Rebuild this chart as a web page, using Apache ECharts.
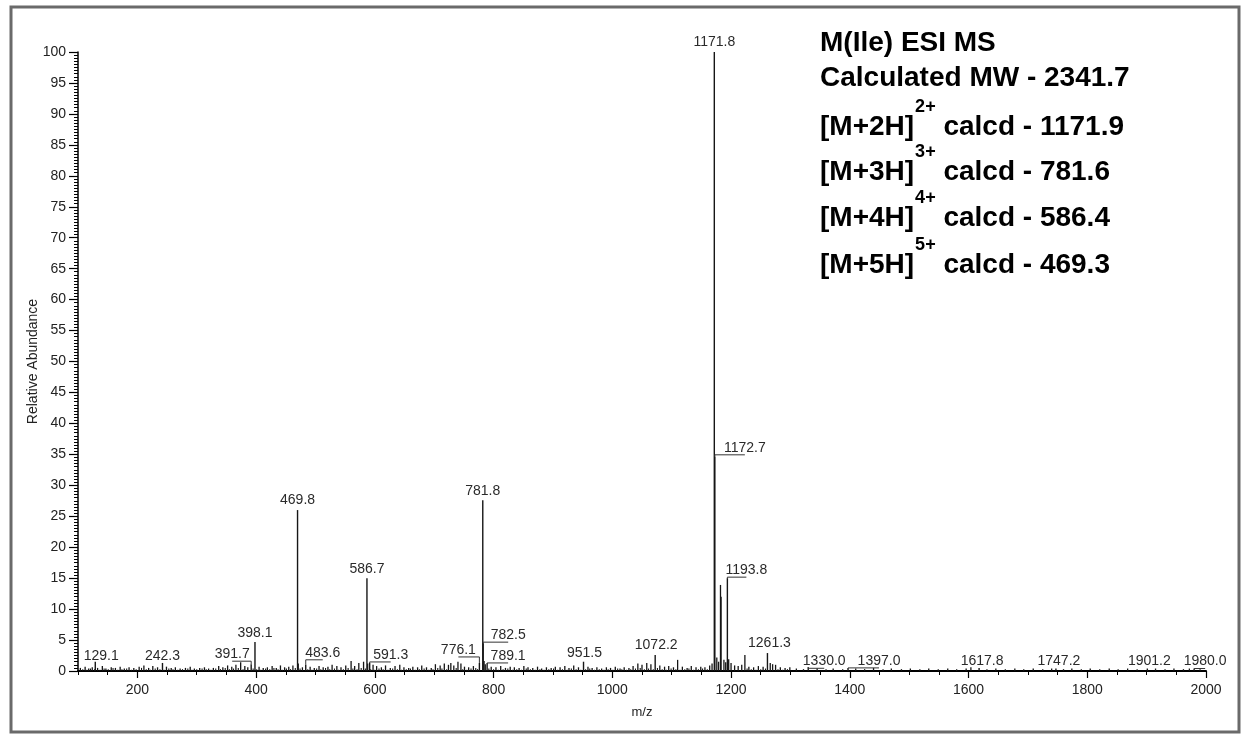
<!DOCTYPE html>
<html>
<head>
<meta charset="utf-8">
<title>M(Ile) ESI MS</title>
<script src="https://cdn.jsdelivr.net/npm/echarts@6/dist/echarts.min.js"></script>
<style>
  html, body { margin: 0; padding: 0; background: #ffffff; }
  #chart { width: 1243px; height: 740px; }
</style>
</head>
<body>
<div id="chart"></div>
<script>
// ---- Spectrum data: labelled centroid peaks (m/z, relative abundance %) ----
const labeledMz = [129.1, 242.3, 391.7, 398.1, 469.8, 483.6, 586.7, 591.3, 776.1, 781.8, 782.5, 789.1,
  951.5, 1072.2, 1171.8, 1172.7, 1193.8, 1261.3, 1330.0, 1397.0, 1617.8, 1747.2, 1901.2, 1980.0];
const labeledAbundance = [1.5, 1.3, 1.1, 4.7, 26.0, 1.0, 15.0, 1.3, 1.3, 27.6, 4.5, 1.3,
  1.5, 2.6, 100, 34.6, 15.0, 2.9, 0.6, 0.5, 0.5, 0.4, 0.4, 0.4];

// ---- Unlabelled peaks ----
const minorMz = [104, 112, 118, 124, 133, 141, 147, 156, 163, 171, 178, 186, 194, 203, 211, 219, 226, 234,
  249, 257, 264, 272, 281, 289, 296, 305, 313, 320, 328, 337, 344, 352, 359, 366, 374, 381, 386,
  405, 412, 419, 427, 434, 441, 448, 455, 462, 471, 478, 491, 498, 506, 513, 521, 528, 536, 543, 551,
  560, 566, 573, 581, 588, 597, 603, 611, 618, 626, 634, 642, 649, 657, 664, 672, 679, 687, 695,
  702, 710, 717, 724, 728, 733, 740, 745, 751, 758, 766, 784, 786, 796, 804, 812, 820, 828, 835,
  843, 851, 858, 866, 874, 881, 889, 897, 904, 912, 920, 927, 935, 943, 959, 966, 974, 982, 990,
  997, 1005, 1013, 1020, 1028, 1035, 1043, 1050, 1058, 1065, 1080, 1088, 1095, 1103, 1110, 1118,
  1126, 1133, 1141, 1149, 1156, 1164, 1168, 1176, 1179, 1182.2, 1183.2, 1188, 1191, 1196, 1200,
  1206, 1212, 1218, 1223.3, 1230, 1238, 1246, 1254, 1266, 1270, 1275, 1283, 1291, 1299,
  1310, 1322, 1345, 1360, 1372, 1388, 1410, 1425, 1440, 1456, 1470, 1487, 1502, 1518, 1533, 1549,
  1565, 1580, 1596, 1604, 1631, 1646, 1662, 1678, 1693, 1709, 1725, 1740, 1760, 1774, 1790, 1805,
  1821, 1837, 1852, 1868, 1884, 1915, 1931, 1946, 1962, 1972, 1990];
const minorAbundance = [0.5, 0.7, 0.4, 0.6, 0.5, 0.8, 0.4, 0.6, 0.5, 0.7, 0.4, 0.6, 0.5, 0.7, 0.9, 0.5, 0.8, 0.6,
  0.7, 0.5, 0.6, 0.4, 0.5, 0.7, 0.4, 0.5, 0.6, 0.4, 0.5, 0.8, 0.6, 0.9, 0.7, 1.0, 1.4, 0.8, 0.6,
  0.7, 0.5, 0.6, 0.8, 0.5, 0.9, 0.6, 0.7, 0.9, 1.2, 0.6, 0.7, 0.5, 0.8, 0.6, 0.7, 1.0, 0.8, 0.6, 0.9,
  1.6, 0.8, 1.3, 1.5, 1.2, 1.0, 0.8, 0.6, 0.9, 0.5, 0.8, 1.0, 0.6, 0.5, 0.7, 0.6, 0.9, 0.6, 0.5,
  1.1, 0.9, 1.2, 1.0, 1.3, 0.9, 1.5, 1.2, 0.7, 0.6, 0.8, 1.6, 1.1, 0.7, 0.6, 0.8, 0.5, 0.7, 0.6,
  0.5, 0.8, 0.6, 0.5, 0.7, 0.4, 0.6, 0.5, 0.7, 0.6, 0.8, 0.5, 0.9, 0.6, 0.7, 0.5, 0.6, 0.4, 0.6,
  0.5, 0.7, 0.4, 0.6, 0.5, 0.8, 1.2, 1.0, 1.3, 1.1, 0.9, 0.7, 0.8, 0.6, 1.8, 0.7,
  0.5, 0.8, 0.6, 0.7, 0.6, 0.9, 1.2, 2.2, 1.5, 13.9, 12.0, 1.8, 1.4, 1.9, 1.3,
  0.9, 0.8, 1.0, 2.6, 0.7, 0.6, 0.8, 0.7, 1.3, 1.1, 1.0, 0.6, 0.5, 0.6,
  0.4, 0.3, 0.4, 0.3, 0.4, 0.3, 0.4, 0.3, 0.5, 0.3, 0.4, 0.3, 0.4, 0.3, 0.4, 0.3,
  0.4, 0.3, 0.4, 0.6, 0.3, 0.4, 0.3, 0.4, 0.3, 0.4, 0.3, 0.4, 0.3, 0.4, 0.3, 0.4,
  0.3, 0.4, 0.3, 0.4, 0.3, 0.4, 0.3, 0.4, 0.3, 0.4, 0.3];

// ---- Baseline noise spikes ----
const noiseMz = [108, 115, 121, 128, 137, 144, 151, 159, 167, 174, 182, 190, 198, 207, 215, 222, 230, 238,
  245, 253, 260, 268, 276, 285, 292, 300, 309, 316, 324, 332, 340, 348, 355, 362, 370, 378, 395, 401,
  408, 416, 423, 430, 437, 444, 451, 458, 466, 474, 487, 494, 502, 509, 517, 524, 532, 539, 547, 555,
  563, 570, 577, 584, 593, 600, 607, 614, 622, 630, 638, 645, 653, 660, 668, 675, 683, 691, 698, 706,
  713, 721, 737, 748, 755, 762, 770, 773, 792, 800, 808, 816, 824, 832, 839, 847, 855, 862, 870, 878,
  885, 893, 901, 908, 916, 924, 931, 939, 947, 955, 962, 970, 978, 986, 993, 1001, 1009, 1016, 1024,
  1031, 1039, 1047, 1054, 1061, 1069, 1076, 1084, 1091, 1099, 1107, 1114, 1122, 1129, 1137, 1145,
  1152, 1160, 1227, 1234, 1242, 1250, 1258, 1279, 1287, 1295];
const noiseAbundance = [0.3, 0.2, 0.4, 0.3, 0.2, 0.4, 0.3, 0.5, 0.2, 0.3, 0.4, 0.2, 0.3, 0.5, 0.3, 0.2, 0.4, 0.3,
  0.2, 0.4, 0.3, 0.2, 0.3, 0.4, 0.2, 0.3, 0.4, 0.3, 0.2, 0.4, 0.3, 0.5, 0.3, 0.4, 0.5, 0.3, 0.4, 0.3,
  0.2, 0.4, 0.3, 0.5, 0.3, 0.2, 0.4, 0.3, 0.5, 0.4, 0.3, 0.2, 0.4, 0.3, 0.5, 0.3, 0.4, 0.2, 0.3, 0.5,
  0.4, 0.3, 0.5, 0.4, 0.3, 0.2, 0.4, 0.3, 0.2, 0.4, 0.3, 0.2, 0.3, 0.4, 0.2, 0.3, 0.4, 0.2, 0.3, 0.5,
  0.4, 0.3, 0.5, 0.3, 0.2, 0.4, 0.5, 0.3, 0.4, 0.3, 0.2, 0.3, 0.4, 0.2, 0.3, 0.2, 0.4, 0.3, 0.2, 0.3,
  0.2, 0.3, 0.4, 0.2, 0.3, 0.2, 0.4, 0.3, 0.2, 0.3, 0.4, 0.2, 0.3, 0.2, 0.3, 0.2, 0.4, 0.3, 0.2,
  0.3, 0.4, 0.5, 0.3, 0.4, 0.3, 0.5, 0.3, 0.2, 0.4, 0.3, 0.2, 0.3, 0.4, 0.2, 0.3,
  0.4, 0.3, 0.4, 0.3, 0.2, 0.3, 0.4, 0.3, 0.2, 0.3];

// ---- Axis tick values ----
const xTickValues = [200, 400, 600, 800, 1000, 1200, 1400, 1600, 1800, 2000];

// ---- Annotation text ----
const titleLines = ['M(Ile) ESI MS', 'Calculated MW - 2341.7'];
const ionNames = ['[M+2H]', '[M+3H]', '[M+4H]', '[M+5H]'];
const ionCharges = ['2+', '3+', '4+', '5+'];
const ionCalcd = ['1171.9', '781.6', '586.4', '469.3'];

// ---- Label placement (pixel offset of each label centre from its peak apex) ----
const labelOffsets = [[6, -6], [0, -7], [-19, -10], [0, -9], [0, -10], [17, -12], [0, -9], [21, -8],
  [-21, -13], [0, -9], [25, -8], [21, -7], [1, -9], [1, -10], [0, -10], [30, -9], [19, -8], [2, -10],
  [16, -6], [31, -7], [3, -7], [3, -7], [2, -7], [11, -7]];

const FONT = '"Liberation Sans", Arial, Helvetica, sans-serif';
const INK = '#161616';

const chart = echarts.init(document.getElementById('chart'), null, { renderer: 'canvas' });

function stickShape(api, mz, ab) {
  const p0 = api.coord([mz, 0]);
  const p1 = api.coord([mz, ab]);
  return { p0, p1 };
}

function makeStickRenderer(width) {
  return function (params, api) {
    const s = stickShape(api, api.value(0), api.value(1));
    return {
      type: 'line',
      shape: { x1: s.p0[0], y1: s.p0[1], x2: s.p1[0], y2: s.p1[1] },
      style: { stroke: INK, lineWidth: width }
    };
  };
}

function renderLabeled(params, api) {
  const i = params.dataIndex;
  const mz = api.value(0);
  const s = stickShape(api, mz, api.value(1));
  const off = labelOffsets[i];
  const lx = s.p1[0] + off[0];
  const ly = s.p1[1] + off[1];
  const children = [
    { type: 'line', shape: { x1: s.p0[0], y1: s.p0[1], x2: s.p1[0], y2: s.p1[1] },
      style: { stroke: INK, lineWidth: 1.4 } },
    { type: 'text', style: { text: mz.toFixed(1), x: lx, y: ly, align: 'center', verticalAlign: 'middle',
      fontFamily: FONT, fontSize: 14, fill: '#2a2a2a' } }
  ];
  if (Math.abs(off[0]) >= 10) {
    const uy = ly + 7;
    children.push({ type: 'polyline',
      shape: { points: [[s.p1[0], s.p1[1]], [s.p1[0], uy], [lx, uy]] },
      style: { stroke: '#333', lineWidth: 1, fill: 'none' } });
  }
  return { type: 'group', children };
}

// Annotation block (bold text with superscript charge states)
const measureCtx = document.createElement('canvas').getContext('2d');
function textWidth(str, size) {
  measureCtx.font = 'bold ' + size + 'px ' + FONT;
  return measureCtx.measureText(str).width;
}
const NOTE_X = 820;
const NOTE_SIZE = 28;
const SUP_SIZE = 18;
const titleY = [43, 78];
const ionY = [127, 172, 218, 265];
const noteElements = [];
titleLines.forEach((t, k) => {
  noteElements.push({ type: 'text', x: NOTE_X, y: titleY[k],
    style: { text: t, fontFamily: FONT, fontSize: NOTE_SIZE, fontWeight: 'bold', fill: '#000',
      align: 'left', verticalAlign: 'middle' } });
});
ionNames.forEach((n, k) => {
  const wName = textWidth(n, NOTE_SIZE);
  const supX = NOTE_X + wName + 1;
  const wSup = textWidth(ionCharges[k], SUP_SIZE);
  noteElements.push({ type: 'text', x: NOTE_X, y: ionY[k],
    style: { text: n, fontFamily: FONT, fontSize: NOTE_SIZE, fontWeight: 'bold', fill: '#000',
      align: 'left', verticalAlign: 'middle' } });
  noteElements.push({ type: 'text', x: supX, y: ionY[k] - 20,
    style: { text: ionCharges[k], fontFamily: FONT, fontSize: SUP_SIZE, fontWeight: 'bold', fill: '#000',
      align: 'left', verticalAlign: 'middle' } });
  noteElements.push({ type: 'text', x: supX + wSup, y: ionY[k],
    style: { text: ' calcd - ' + ionCalcd[k], fontFamily: FONT, fontSize: NOTE_SIZE, fontWeight: 'bold', fill: '#000',
      align: 'left', verticalAlign: 'middle' } });
});

const option = {
  animation: false,
  backgroundColor: '#ffffff',
  grid: { left: 78, right: 37, top: 52, bottom: 69, containLabel: false },
  xAxis: [{
    type: 'value', min: 100, max: 2000,
    name: 'm/z', nameLocation: 'middle', nameGap: 35, nameMoveOverlap: false,
    nameTextStyle: { fontFamily: FONT, fontSize: 13, color: '#222' },
    axisLine: { show: true, onZero: false, lineStyle: { color: '#000', width: 2 } },
    axisTick: { show: true, length: 7, customValues: xTickValues, lineStyle: { color: '#000', width: 1.2 } },
    axisLabel: { show: true, customValues: xTickValues, margin: 12, fontFamily: FONT, fontSize: 14, color: '#222',
      formatter: (v) => String(v) },
    splitLine: { show: false }
  }, {
    type: 'value', min: 100, max: 2000, interval: 50, position: 'bottom',
    axisLine: { show: false },
    axisTick: { show: true, length: 4, lineStyle: { color: '#000', width: 1 } },
    axisLabel: { show: false },
    splitLine: { show: false }
  }],
  yAxis: {
    type: 'value', min: 0, max: 100, interval: 5,
    name: 'Relative Abundance', nameLocation: 'middle', nameGap: 38, nameRotate: 90, nameMoveOverlap: false,
    nameTextStyle: { fontFamily: FONT, fontSize: 14, color: '#222' },
    axisLine: { show: true, lineStyle: { color: '#000', width: 1.5 } },
    axisTick: { show: true, length: 9, lineStyle: { color: '#000', width: 1.2 } },
    minorTick: { show: true, splitNumber: 10, length: 4, lineStyle: { color: '#000', width: 1 } },
    axisLabel: { margin: 12, fontFamily: FONT, fontSize: 14, color: '#222' },
    splitLine: { show: false },
    minorSplitLine: { show: false }
  },
  graphic: [
    { type: 'rect', shape: { x: 11, y: 7, width: 1228, height: 725 },
      style: { fill: 'none', stroke: '#6a6a6a', lineWidth: 3 }, z: 100 }
  ].concat(noteElements),
  series: [{
    type: 'custom', name: 'noise', xAxisIndex: 0, yAxisIndex: 0,
    renderItem: makeStickRenderer(1.1),
    encode: { x: 0, y: 1 },
    data: noiseMz.map((m, i) => [m, noiseAbundance[i]]),
    z: 1
  }, {
    type: 'custom', name: 'minor', xAxisIndex: 0, yAxisIndex: 0,
    renderItem: makeStickRenderer(1.3),
    encode: { x: 0, y: 1 },
    data: minorMz.map((m, i) => [m, minorAbundance[i]]),
    z: 2
  }, {
    type: 'custom', name: 'labelled', xAxisIndex: 0, yAxisIndex: 0,
    renderItem: renderLabeled,
    encode: { x: 0, y: 1 },
    data: labeledMz.map((m, i) => [m, labeledAbundance[i]]),
    z: 3
  }]
};

chart.setOption(option);
</script>
</body>
</html>
